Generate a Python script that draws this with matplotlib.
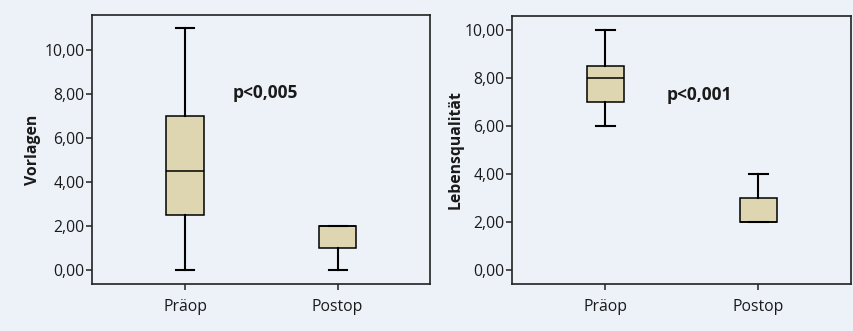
import matplotlib
matplotlib.use("Agg")
import matplotlib.pyplot as plt

categories = ["Präop", "Postop"]
# Vorlagen: whislo, q1, median, q3, whishi
vorlagen_praeop = [0.0, 2.5, 4.5, 7.0, 11.0]
vorlagen_postop = [0.0, 1.0, 2.0, 2.0, 2.0]
# Lebensqualität
lq_praeop = [6.0, 7.0, 8.0, 8.5, 10.0]
lq_postop = [2.0, 2.0, 2.0, 3.0, 4.0]
yticks = [0, 2, 4, 6, 8, 10]
ytick_labels = ["0,00", "2,00", "4,00", "6,00", "8,00", "10,00"]

BG = "#edf2f9"
FILL = "#ddd6b1"
plt.rcParams['font.family'] = ['Open Sans', 'DejaVu Sans']

fig = plt.figure(figsize=(8.54, 3.31), dpi=100, facecolor=BG)

def stats(v, label):
    return dict(whislo=v[0], q1=v[1], med=v[2], q3=v[3], whishi=v[4], label=label, fliers=[])

def panel(rect, data, ylim, ylabel, ptext, pxy, lpad):
    ax = fig.add_axes(rect)
    ax.set_facecolor(BG)
    s = [stats(d, c) for d, c in zip(data, categories)]
    ax.bxp(s, positions=[1, 2], widths=0.245, patch_artist=True, showfliers=False,
           boxprops=dict(facecolor=FILL, edgecolor="black", linewidth=1.1),
           medianprops=dict(color="black", linewidth=1.1),
           whiskerprops=dict(color="black", linewidth=1.5),
           capprops=dict(color="black", linewidth=1.5),
           capwidths=0.12)
    ax.set_xlim(0.39, 2.605)
    ax.set_ylim(*ylim)
    ax.set_yticks(yticks)
    ax.set_yticklabels(ytick_labels)
    ax.set_xticks([1, 2])
    ax.set_xticklabels(categories)
    ax.tick_params(axis='both', labelsize=11.3, length=4, width=1.1, color="#222222", labelcolor="#1a1a1a")
    ax.tick_params(axis='x', pad=7)
    ax.tick_params(axis='y', pad=1.5)
    for sp in ax.spines.values():
        sp.set_linewidth(1.2)
        sp.set_color("#222222")
    ax.set_ylabel(ylabel, fontsize=11.3, fontweight='bold', labelpad=lpad, color="#1a1a1a")
    ax.text(pxy[0], pxy[1], ptext, fontsize=12.5, fontweight='bold', ha='left', va='center', color="#1a1a1a")
    return ax

W, H = 854, 331
def r(l, t, rr, b):
    return [l / W, 1 - b / H, (rr - l) / W, (b - t) / H]

panel(r(92, 15, 430, 284), [vorlagen_praeop, vorlagen_postop], (-0.64, 11.59), "Vorlagen", "p<0,005", (1.31, 8.05), 2.5)
panel(r(512, 16, 851, 284), [lq_praeop, lq_postop], (-0.58, 10.57), "Lebensqualität", "p<0,001", (1.40, 7.28), 0.5)

fig.savefig("out.png", dpi=100, facecolor=BG)
